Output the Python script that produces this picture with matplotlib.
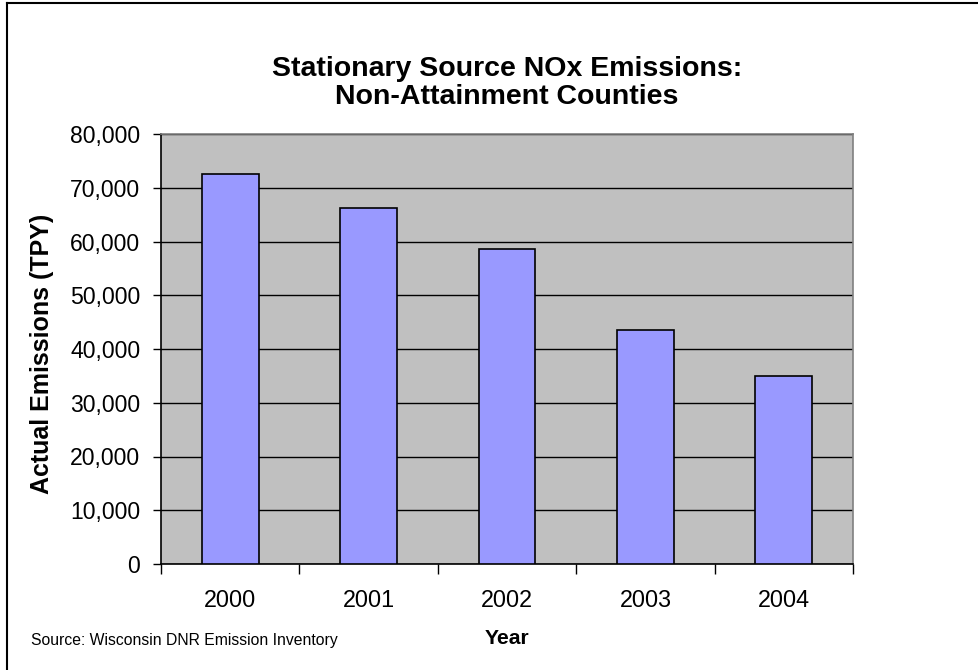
import matplotlib
matplotlib.use("Agg")
import matplotlib.pyplot as plt
from matplotlib.lines import Line2D
from matplotlib.ticker import FuncFormatter, FixedLocator

years = ["2000", "2001", "2002", "2003", "2004"]
emissions = [72600, 66200, 58600, 43500, 35000]
y_ticks = [0, 10000, 20000, 30000, 40000, 50000, 60000, 70000, 80000]

plt.rcParams['font.family'] = ['Liberation Sans', 'DejaVu Sans']

W, H = 979, 670
fig = plt.figure(figsize=(W / 100, H / 100), dpi=100)
fig.patch.set_facecolor('white')

left, right, top, bottom = 161, 853, 134, 564
ax = fig.add_axes([left / W, 1 - bottom / H, (right - left) / W, (bottom - top) / H])
ax.set_facecolor('#C0C0C0')

x = list(range(len(years)))
ax.bar(x, emissions, width=0.41, color='#9999FF', edgecolor='black', linewidth=1.2, zorder=3)

ax.set_xlim(-0.5, len(years) - 0.5)
ax.set_ylim(0, 80000)
ax.yaxis.set_major_locator(FixedLocator(y_ticks))
ax.yaxis.set_major_formatter(FuncFormatter(lambda v, p: f"{int(v):,}"))
ax.grid(axis='y', color='black', linewidth=1.0, zorder=1)
ax.set_axisbelow(True)

ax.xaxis.set_major_locator(FixedLocator([i - 0.5 for i in range(len(years) + 1)]))
ax.xaxis.set_major_formatter(FuncFormatter(lambda v, p: ""))
ax.xaxis.set_minor_locator(FixedLocator(x))
ax.set_xticklabels(years, minor=True)
ax.tick_params(axis='x', which='major', direction='out', length=7, width=1, color='black')
ax.tick_params(axis='x', which='minor', length=0, pad=18, labelsize=16.8)
ax.tick_params(axis='y', which='major', direction='out', length=6, width=1, pad=9, labelsize=16.6)

for s in ['left', 'bottom']:
    ax.spines[s].set_color('black')
    ax.spines[s].set_linewidth(1.2)
for s in ['top', 'right']:
    ax.spines[s].set_color('#808080')
    ax.spines[s].set_linewidth(1.2)

fig.text(507 / W, 1 - 83 / H, "Stationary Source NOx Emissions:\nNon-Attainment Counties",
         ha='center', va='center', fontsize=20.5, fontweight='bold', linespacing=1.15)

ax.set_ylabel("Actual Emissions (TPY)", fontsize=18, fontweight='bold')
ax.yaxis.set_label_coords(42 / W, 1 - 354 / H, transform=fig.transFigure)
ax.yaxis.label.set_verticalalignment('center')

ax.set_xlabel("Year", fontsize=15.2, fontweight='bold')
ax.xaxis.set_label_coords(507 / W, 1 - 638 / H, transform=fig.transFigure)
ax.xaxis.label.set_verticalalignment('center')

fig.text(31 / W, 1 - 641 / H, "Source: Wisconsin DNR Emission Inventory",
         ha='left', va='center', fontsize=11.3)

fig.add_artist(Line2D([7 / W, 7 / W], [0, 1 - 3 / H], transform=fig.transFigure,
                      color='black', linewidth=1.5))
fig.add_artist(Line2D([7 / W, 1], [1 - 3 / H, 1 - 3 / H], transform=fig.transFigure,
                      color='black', linewidth=1.5))

fig.savefig("out.png", dpi=100)
